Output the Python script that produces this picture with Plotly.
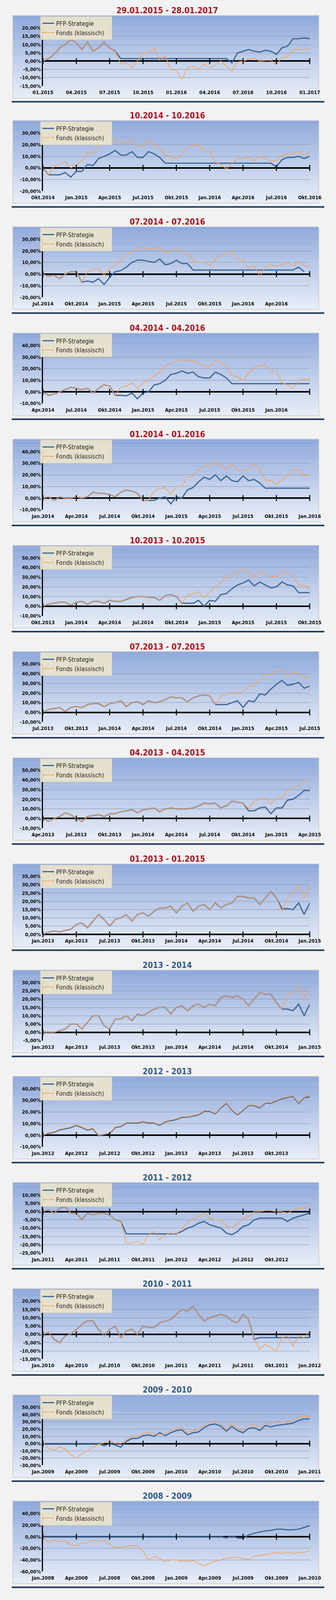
import plotly.graph_objects as go

titles = ["29.01.2015 - 28.01.2017", "10.2014 - 10.2016", "07.2014 - 07.2016", "04.2014 - 04.2016",
          "01.2014 - 01.2016", "10.2013 - 10.2015", "07.2013 - 07.2015", "04.2013 - 04.2015",
          "01.2013 - 01.2015", "2013 - 2014", "2012 - 2013", "2011 - 2012", "2010 - 2011",
          "2009 - 2010", "2008 - 2009"]

xt1 = ["01.2015", "04.2015", "07.2015", "10.2015", "01.2016", "04.2016", "07.2016", "10.2016", "01.2017"]
xt2 = ["Okt.2014", "Jan.2015", "Apr.2015", "Jul.2015", "Okt.2015", "Jan.2016", "Apr.2016", "Jul.2016", "Okt.2016"]
xt3 = ["Jul.2014", "Okt.2014", "Jan.2015", "Apr.2015", "Jul.2015", "Okt.2015", "Jan.2016", "Apr.2016", ""]
xt4 = ["Apr.2014", "Jul.2014", "Okt.2014", "Jan.2015", "Apr.2015", "Jul.2015", "Okt.2015", "Jan.2016", ""]
xt5 = ["Jan.2014", "Apr.2014", "Jul.2014", "Okt.2014", "Jan.2015", "Apr.2015", "Jul.2015", "Okt.2015", "Jan.2016"]
xt6 = ["Okt.2013", "Jan.2014", "Apr.2014", "Jul.2014", "Okt.2014", "Jan.2015", "Apr.2015", "Jul.2015", "Okt.2015"]
xt7 = ["Jul.2013", "Okt.2013", "Jan.2014", "Apr.2014", "Jul.2014", "Okt.2014", "Jan.2015", "Apr.2015", "Jul.2015"]
xt8 = ["Apr.2013", "Jul.2013", "Okt.2013", "Jan.2014", "Apr.2014", "Jul.2014", "Okt.2014", "Jan.2015", "Apr.2015"]
xt9 = ["Jan.2013", "Apr.2013", "Jul.2013", "Okt.2013", "Jan.2014", "Apr.2014", "Jul.2014", "Okt.2014", "Jan.2015"]
xt10 = xt9
xt11 = ["Jan.2012", "Apr.2012", "Jul.2012", "Okt.2012", "Jan.2013", "Apr.2013", "Jul.2013", "Okt.2013", ""]
xt12 = ["Jan.2011", "Apr.2011", "Jul.2011", "Okt.2011", "Jan.2012", "Apr.2012", "Jul.2012", "Okt.2012", ""]
xt13 = ["Jan.2010", "Apr.2010", "Jul.2010", "Okt.2010", "Jan.2011", "Apr.2011", "Jul.2011", "Okt.2011", "Jan.2012"]
xt14 = ["Jan.2009", "Apr.2009", "Jul.2009", "Okt.2009", "Jan.2010", "Apr.2010", "Jul.2010", "Okt.2010", "Jan.2011"]
xt15 = ["Jan.2008", "Apr.2008", "Jul.2008", "Okt.2008", "Jan.2009", "Apr.2009", "Jul.2009", "Okt.2009", "Jan.2010"]
xticks = [xt1, xt2, xt3, xt4, xt5, xt6, xt7, xt8, xt9, xt10, xt11, xt12, xt13, xt14, xt15]

yranges = [(-15, 20, 5), (-20, 30, 10), (-20, 30, 10), (-10, 40, 10), (-10, 40, 10), (-10, 50, 10),
           (-10, 50, 10), (-10, 50, 10), (0, 35, 5), (-5, 30, 5), (-10, 40, 10), (-25, 10, 5),
           (-15, 20, 5), (-30, 50, 10), (-60, 40, 20)]

months = [i * 0.5 for i in range(49)]

f1 = [0, 1.5, 4, 8, 10, 13, 11, 7, 11.5, 6, 8, 11.5, 8, 6, -2, -1, -4, 0, 5, 5, 8, 0.5, 3, -5, -5.5, -11, -4, -3, -5, -2, -4, -2.5, 0, -3, -6, -0.5, 0, 1, 2, 0, 0.5, 0.5, -2, 2, 2.5, 7, 7, 7, 7.5]
b1 = f1[:14] + [1.5] * 20 + [-1, 5, 6, 7, 6, 5.5, 6.5, 6, 4, 8, 9, 13.5, 13.5, 14, 13.5]

f2 = [0, -6, 2, 3, 5, 0, 3, 6, 13, 12, 20, 22, 22, 25, 21, 22, 24, 19, 18, 24, 20, 17, 11, 10, 8, 12, 18, 19, 20, 14, 14, 5, 3, -1, 4, 8, 8, 9, 6, 10, 8, 6, 6, 11, 12, 12, 14, 11, 13]
b2 = [0, -6, -6, -6, -4, -8, -3, -3, 3, 2, 8, 10, 12, 15, 11, 11, 14, 9, 9, 14, 12, 9] + [4] * 20 + [1, 7, 9, 9, 10, 8, 10]

f3 = [0, -2, -1, -4, 0, 2, 2, -7, 2, 4, 5, -1, 5, 8, 12, 16, 19, 22, 23, 21, 22, 23, 18, 20, 22, 18, 18, 12, 10, 10, 7, 12, 16, 18, 20, 13, 12, 5, 7, -2, 6, 8, 7, 8, 10, 7, 11, 7, 7]
b3 = f3[:7] + [-7, -6, -7, -4, -9, -3, 2, 3, 6, 10, 12, 12, 11, 10, 13, 8, 9, 12, 9, 9] + [3.5] * 19 + [6, 2]

f4 = [0, -3, -2, 0, 2, 4, 3, 2, 3, -1, 3, 6, 5, -3, 4, 5, 8, 3, 8, 10, 14, 17, 22, 25, 26, 28, 27, 27, 25, 22, 22, 27, 25, 22, 14, 13, 10, 16, 21, 22, 24, 17, 18, 8, 6, 3, 10, 11, 11]
b4 = f4[:14] + [-3, -3.5, -1, -6, -1, 0, 6, 7, 10, 15, 16, 18, 16, 17, 13, 12, 12, 17, 15, 12] + [7] * 15

f5 = [0, 1, -2, 1, 0, 0, 1, 0, 1, 5, 4, 4, 3, 1, 5, 7, 6, 4, -2, -2, 6, 8, 9, 3, 10, 10, 18, 19, 24, 28, 28, 31, 28, 25, 29, 24, 24, 25, 29, 25, 15, 15, 12, 16, 19, 24, 25, 19, 20]
b5 = f5[:19] + [-2, -2, 0, 1, -5, 1, 0, 7, 9, 14, 18, 16, 20, 15, 19, 15, 14, 19, 15, 16, 13] + [8.5] * 9

f6 = [0, 2, 3, 4, 4, 1, 4, 5, 2, 5, 5, 3, 6, 5, 5, 7, 9, 10, 10, 9, 9, 6, 11, 12, 10, 3, 11, 13, 15, 9, 15, 20, 24, 30, 33, 35, 38, 35, 30, 37, 32, 31, 30, 37, 33, 31, 22, 22, 18]
b6 = f6[:25] + [3, 3, 3, 6, 0, 6, 5, 12, 13, 18, 22, 24, 27, 21, 25, 22, 19, 20, 25, 22, 21, 14, 14, 14]

f7 = [0, 3, 4, 5, 1, 5, 6, 5, 8, 9, 9, 6, 9, 10, 12, 6, 10, 11, 8, 12, 10, 11, 13, 16, 15, 15, 11, 15, 17, 18, 17, 8, 17, 18, 21, 20, 21, 27, 29, 33, 40, 39, 42, 44, 38, 42, 40, 36, 37]
b7 = f7[:31] + [8, 8, 8, 10, 12, 5, 12, 11, 19, 18, 24, 29, 33, 28, 29, 31, 25, 27]

f8 = [0, -3, 0, 2, 6, 4, 0, -3, 2, 3, 4, 2, 5, 5, 7, 8, 9, 6, 9, 10, 11, 7, 10, 11, 10, 10, 10, 11, 13, 16, 15, 16, 11, 13, 18, 17, 16, 10, 18, 20, 21, 15, 21, 22, 29, 32, 34, 40, 40]
b8 = f8[:37] + [8, 8, 11, 12, 5, 11, 11, 19, 20, 24, 29, 29]

f9 = [0, 1.5, 2, 1.5, 2.5, 3, 6, 7, 4, 8, 12, 9, 5, 9, 10, 12, 8, 12, 13, 11, 14, 16, 16, 17, 13, 17, 19, 14, 17, 18, 15, 19, 16, 18, 19, 23, 23, 22, 22, 18, 22, 26, 22, 14, 22, 26, 29, 22, 30]
b9 = f9[:43] + [15.5, 15.5, 15, 19, 12, 19]

f10 = [0, 0, 0, 1, 2, 5, 5, 2, 6, 10, 10, 4, 2, 8, 8, 10, 7, 11, 10, 12, 14, 15, 15, 11, 15, 16, 13, 16, 17, 15, 17, 16, 21, 22, 21, 22, 20, 16, 20, 24, 23, 23, 18, 14, 23, 24, 28, 20, 27]
b10 = f10[:43] + [14, 14, 13, 17, 10, 17]

f11 = [0, 2, 3, 5, 6, 7, 9, 7, 5, 6, 0, 1, 2, 7, 8, 11, 11, 11, 12, 11, 11, 9, 12, 13, 14, 16, 16, 17, 18, 21, 21, 19, 24, 28, 22, 18, 22, 26, 26, 24, 28, 28, 30, 32, 33, 34, 28, 33, 34]
b11 = [0, 1.5, 2.5, 4.5, 5.5, 6.5, 8.5, 6.5, 4.5, 5.5, -0.5, 0.5, 1.5, 6.5, 7.5, 10.5, 10.5, 10.5, 11.5, 10.5, 10.5, 8.5, 11.5, 12.5, 13.5, 15.5, 15.5, 16.5, 17.5, 20.5, 20.5, 18.5, 23.5, 27.5, 21.5, 17.5, 21.5, 25.5, 25.5, 23.5, 27.5, 27.5, 29.5, 31.5, 32.5, 33.5, 27.5, 32.5, 33]

f12 = [0, 1, -1, 2, 3, -1, -1, -5, -1, -2, -1, -1, -2, -5, -6, -19, -19, -18, -20, -14, -12, -17, -14, -13, -14, -10, -7, -4, -3, -1, -4, -5, -5, -9, -10, -7, -4, -3, 0, 0, 0.5, 0.5, 0, 0, -1, 1, 2, 2, 4]
b12 = f12[:15] + [-13.5] * 10 + [-12, -10, -9, -7, -6, -8, -9, -10, -13, -14, -12, -9, -8, -5, -4, -4, -4, -4, -4, -6, -4, -3, -2, -1]

f13 = [0, 1, -3, -5, -1, 0, 3, 6, 8, 8, 3, -1, 3, 5, -2, 2, 3, 0, 5, 4, 4, 7, 8, 9, 12, 15, 14, 17, 12, 8, 10, 11, 12, 11, 8, 7, 12, 9, -3, -9, -6, -8, -10, -2, -1, -7, -1, -2, 2]
b13 = f13[:39] + [-2] * 10

f14 = [2, -7, -9, -5, -7, -15, -20, -14, -10, -5, -1, 1, 3, 0, 0, 5, 11, 10, 14, 15, 14, 12, 14, 19, 21, 23, 15, 18, 20, 25, 30, 31, 27, 20, 28, 22, 18, 25, 26, 22, 28, 27, 29, 30, 31, 32, 36, 38, 37]
b14 = [0] * 11 + [-3, 0, -2, -5, 3, 7, 7, 11, 12, 10, 15, 11, 15, 18, 19, 12, 15, 16, 22, 26, 27, 24, 17, 24, 18, 15, 21, 22, 18, 25, 23, 25, 26, 27, 28, 32, 34, 34]

f15 = [0, -10, -6, -8, -8, -14, -15, -11, -10, -6, -8, -6, -13, -19, -19, -17, -15, -16, -25, -40, -34, -38, -43, -40, -40, -42, -42, -41, -46, -50, -46, -42, -40, -37, -36, -35, -38, -39, -34, -32, -31, -29, -27, -29, -26, -29, -27, -27, -24]
b15 = [0] * 33 + [-2, 1, -2, -3, 3, 6, 8, 10, 11, 13, 13, 12, 12, 13, 16, 19]

fonds = [f1, f2, f3, f4, f5, f6, f7, f8, f9, f10, f11, f12, f13, f14, f15]
pfp = [b1, b2, b3, b4, b5, b6, b7, b8, b9, b10, b11, b12, b13, b14, b15]
tickmonths = [0, 3, 6, 9, 12, 15, 18, 21, 24]

W, H = 860, 4232
BLUE = "#3a6595"
ORANGE = "#f5a15a"
FONT = "DejaVu Sans Condensed, Liberation Sans Narrow, Roboto, sans-serif"

fig = go.Figure()
shapes = []
annotations = []
layout = {}

def py(px):
    return 1 - px / H

top_col = (143, 169, 220)
bot_col = (232, 238, 248)

for k in range(15):
    T = 21 if k == 0 else 300 + (k - 1) * 281.9
    n = "" if k == 0 else str(k + 1)
    xa, ya = "x" + n, "y" + n
    lg = "legend" if k == 0 else "legend" + n

    bt, bb = T + 13, T + 232
    steps = 40
    for s in range(steps):
        t = s / (steps - 1)
        c = tuple(int(top_col[i] + (bot_col[i] - top_col[i]) * t) for i in range(3))
        y0 = bt + (bb - bt) * s / steps
        y1 = bt + (bb - bt) * (s + 1) / steps
        shapes.append(dict(type="rect", xref="paper", yref="paper", x0=3 / W, x1=845 / W,
                           y0=py(y1) - 0.00002, y1=py(y0), fillcolor="rgb(%d,%d,%d)" % c,
                           line=dict(width=0), layer="below"))
    shapes.append(dict(type="rect", xref="paper", yref="paper", x0=3 / W, x1=845 / W, y0=py(bb), y1=py(bt),
                       line=dict(color="#c4c8cf", width=1.5), layer="below"))
    shapes.append(dict(type="line", xref="paper", yref="paper", x0=0, x1=1, y0=py(T + 242), y1=py(T + 242),
                       line=dict(color="#1f3a5c", width=4)))

    title_color = "#b0121f" if k < 9 else "#2f5b8c"
    annotations.append(dict(text="<b>" + titles[k] + "</b>", xref="paper", yref="paper", x=428 / W, y=py(T),
                            showarrow=False, font=dict(family=FONT, size=21, color=title_color),
                            xanchor="center", yanchor="middle"))

    ymin, ymax, st = yranges[k]
    tv = list(range(ymin, ymax + 1, st))
    layout["xaxis" + n] = dict(domain=[86 / W, 820 / W], range=[0, 24], anchor=ya, tickvals=tickmonths,
                               ticktext=["<b>%s</b>" % s if s else "" for s in xticks[k]],
                               showgrid=False, showline=False, zeroline=False,
                               ticks="", tickfont=dict(family=FONT, size=13, color="#111"), ticklabelstandoff=7)
    layout["yaxis" + n] = dict(domain=[py(T + 200), py(T + 46)], range=[ymin, ymax], anchor=xa,
                               tickvals=tv, ticktext=["<b>%s%%</b>" % ("%.2f" % v).replace(".", ",") for v in tv],
                               showgrid=True,
                               gridcolor="#8b97ab", gridwidth=1, showline=True, linecolor="#000", linewidth=2.5,
                               zeroline=True, zerolinecolor="#000", zerolinewidth=3.5, ticks="",
                               tickfont=dict(family=FONT, size=13, color="#111"))
    layout[lg] = dict(x=78 / W, y=py(T + 15), xanchor="left", yanchor="top", xref="paper", yref="paper",
                      bgcolor="rgba(236,228,203,0.92)", bordercolor="#d8d0b8", borderwidth=1,
                      font=dict(family=FONT, size=16, color="#2a2a2a"), tracegroupgap=0,
                      itemwidth=30)

    fig.add_trace(go.Scatter(x=months, y=pfp[k], mode="lines", name="PFP-Strategie   ", xaxis=xa, yaxis=ya,
                             line=dict(color=BLUE, width=3), legend=lg))
    fig.add_trace(go.Scatter(x=months, y=fonds[k], mode="lines", name="Fonds (klassisch)   ", xaxis=xa, yaxis=ya,
                             line=dict(color=ORANGE, width=1.8), legend=lg))
    fig.add_trace(go.Scatter(x=tickmonths, y=[0] * len(tickmonths), mode="markers", showlegend=False,
                             xaxis=xa, yaxis=ya, hoverinfo="skip", cliponaxis=False,
                             marker=dict(symbol="line-ns-open", size=11, color="#000",
                                         line=dict(color="#000", width=2.5))))

fig.update_layout(autosize=True, margin=dict(l=0, r=0, t=0, b=0), paper_bgcolor="#f2f2f2",
                  plot_bgcolor="rgba(0,0,0,0)", shapes=shapes, annotations=annotations,
                  font=dict(family=FONT), **layout)
fig.write_html("out.html", default_width="100vw", default_height="100vh",
               config={"displayModeBar": False, "responsive": True},
               post_script="document.documentElement.style.margin='0';document.body.style.margin='0';"
                           "document.body.style.overflow='hidden';"
                           "var gd=document.getElementById('{plot_id}');gd.style.width='100vw';gd.style.height='100vh';"
                           "Plotly.Plots.resize(gd);")
